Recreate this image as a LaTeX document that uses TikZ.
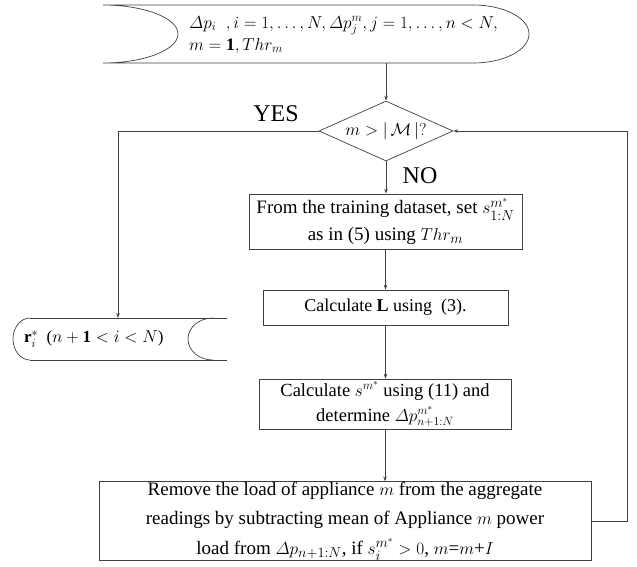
\documentclass[tikz,border=0pt]{standalone}
\usepackage{amsmath,amssymb}
\usepackage{fontspec}
\setmainfont{Liberation Serif}
\usetikzlibrary{shapes.geometric,arrows.meta}
\begin{document}
\begin{tikzpicture}[x=1pt,y=-1pt,
  line/.style={draw=black!75,line width=0.7pt},
  arr/.style={line,-{Stealth[length=5pt,width=3.5pt]}},
  box/.style={draw=black!75,line width=0.7pt,align=center,inner sep=0pt,font=\fontsize{19}{27}\selectfont},
  lab/.style={font=\fontsize{24}{24}\selectfont,inner sep=0pt}]
\useasboundingbox (0,0) rectangle (637,566);

% top terminal (input data)
\draw[line] (103,5) -- (473,5) .. controls (504,5) and (529,18) .. (529,34)
  .. controls (529,50) and (504,63) .. (473,63) -- (103,63)
  .. controls (144,63) and (178,50) .. (178,34)
  .. controls (178,18) and (144,5) .. (103,5) -- cycle;
\node[anchor=west,align=left,inner sep=0pt,font=\fontsize{17.5}{22}\selectfont] (intxt) at (189,35)
  {$\varDelta p_i\;\;,i = 1, \dots, N, \varDelta p_j^m, j = 1, \dots, n < N,$\\
   $m = \mathbf{1}, Thr_m$};
\coordinate (inbot) at (386,63);

% decision
\node[diamond,line,shape aspect=2.2,minimum width=134pt,minimum height=60pt,inner sep=0pt,
  font=\fontsize{17}{17}\selectfont] (dec) at (386,131) {$m > |\,\mathcal{M}\,|?$};

% boxes
\node[box,minimum width=273pt,minimum height=55pt] (b1) at (385.5,221.5)
  {From the training dataset, set $s_{1:N}^{m^*}$\\ as in (5) using $Thr_m$};
\node[box,minimum width=245pt,minimum height=35pt,font=\fontsize{18}{22}\selectfont] (b2) at (385.5,307.5)
  {Calculate $\mathbf{L}$ using~ (3).};
\node[box,minimum width=252pt,minimum height=50pt,font=\fontsize{18.5}{25}\selectfont] (b3) at (385,404)
  {Calculate $s^{m^*}$ using (11) and\\ determine $\varDelta p_{n+1:N}^{m^*}$};
\node[box,minimum width=492pt,minimum height=76pt,font=\fontsize{19}{29.5}\selectfont] (b4) at (345,521)
  {Remove the load of appliance $m$ from the aggregate\\
   readings by subtracting mean of Appliance $m$ power\\
   load from $\varDelta p_{n+1:N}$, if $s_i^{m^*} > 0$, $m$=$m$+$I$};

% output terminal
\draw[line] (30,318) -- (227,318);
\draw[line] (30,360) -- (227,360);
\draw[line] (30,318) .. controls (20.6,318) and (13,327.4) .. (13,339)
  .. controls (13,350.6) and (20.6,360) .. (30,360);
\draw[line] (213,318) .. controls (199,318) and (188,327.4) .. (188,339)
  .. controls (188,350.6) and (199,360) .. (213,360);
\node[anchor=west,inner sep=0pt,font=\fontsize{17}{17}\selectfont] (outtxt) at (24,339)
  {$\mathbf{r}_i^{*}$\ \ ($n+\mathbf{1} < i < N$)};
\coordinate (outtop) at (118,318);
\coordinate (rc) at (627,131);

% labels
\node[lab] (yes) at (276,114) {YES};
\node[lab] (no) at (420,176) {NO};

% connectors
\draw[arr] (inbot) -- (dec.north);
\draw[arr] (dec.west) -| (outtop);
\draw[arr] (dec.south) -- (dec.south |- b1.north);
\draw[arr] (b1.south) -- (b2.north);
\draw[arr] (b2.south) -- (b2.south |- b3.north);
\draw[arr] (b3.south) -- (b3.south |- b4.north);
\draw[arr] (b4.east) -| (rc) -- (dec.east);
\end{tikzpicture}
\end{document}
